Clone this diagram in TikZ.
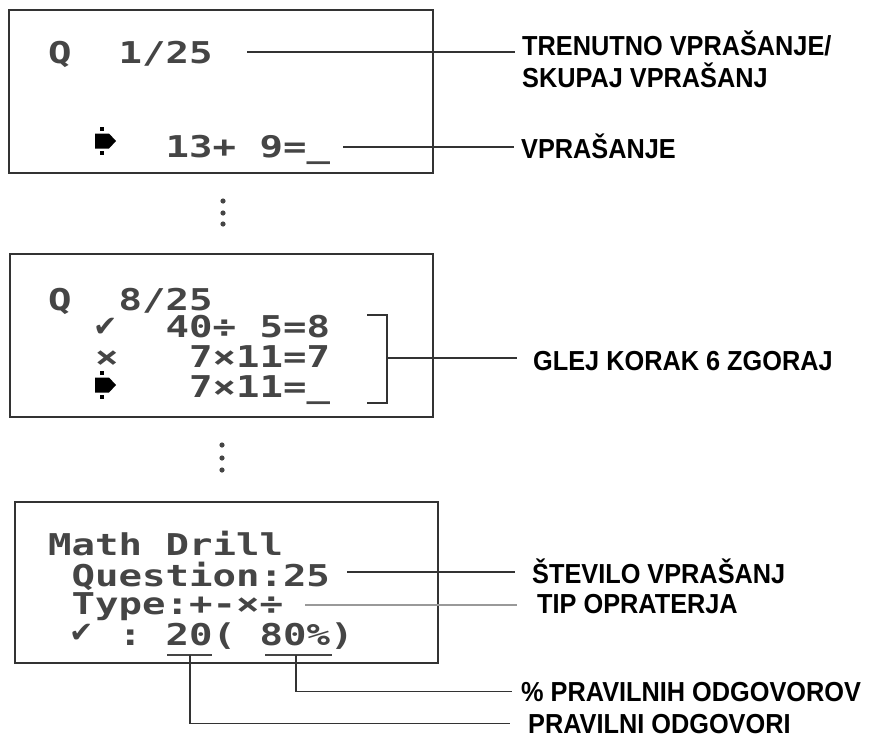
\documentclass[tikz,border=0pt]{standalone}
\usepackage{fontspec}
\setmainfont{Liberation Sans}
\newfontfamily\lcdfont[FakeStretch=1.3]{DejaVu Sans Mono}
\newfontfamily\symfont{DejaVu Sans}
\newfontfamily\labfont[FakeStretch=0.92]{Liberation Sans}
\definecolor{lcdgray}{HTML}{454545}
\definecolor{boxgray}{HTML}{333333}
\definecolor{lightline}{HTML}{999999}
\begin{document}
\begin{tikzpicture}[x=1pt,y=-1pt,
  lcd/.style={anchor=base west,inner sep=0pt,text=lcdgray,font=\lcdfont\bfseries\fontsize{30}{32}\selectfont},
  lcdsym/.style={anchor=base west,inner sep=0pt,text=lcdgray,font=\symfont\fontsize{29}{30}\selectfont},
  screen/.style={draw=boxgray,line width=1.8pt},
  lab/.style={anchor=base west,inner ysep=0pt,inner xsep=7pt,font=\labfont\bfseries\fontsize{27.5}{32}\selectfont,align=left},
  leader/.style={draw=boxgray,line width=1.3pt},
  leaderlight/.style={draw=lightline,line width=1.3pt},
  under/.style={draw=lcdgray,line width=1.5pt},
  vdot/.style={fill=lcdgray},
  lcdpointer/.pic={
    \fill[black] (0pt,-7.5pt) -- (14pt,-7.5pt) -- (21pt,0pt) -- (14pt,7.5pt) -- (0pt,7.5pt) -- cycle;
    \fill[black] (5pt,-14pt) rectangle (9pt,-10pt);
    \fill[black] (5pt,10pt) rectangle (9pt,14pt);
  }]
\useasboundingbox (0,0) rectangle (872,739);
\fill[white] (0,0) rectangle (872,739);

% ---------- screen 1 ----------
\draw[screen] (9,10) rectangle (433,173);
\node[lcd] (s1q) at (48,63) {Q};
\node[lcd] (s1n) at (118.5,63) {1/25};
\pic at (95,141) {lcdpointer};
\node[lcd] (s1e) at (165.5,157) {13+};
\node[lcd] (s1f) at (259.5,157) {9=\_};

\node[lab] (l1) at (515,87) {TRENUTNO VPRAŠANJE/\\SKUPAJ VPRAŠANJ};
\node[lab] (l2) at (514,158) {VPRAŠANJE};
\coordinate (c1) at (247,52);
\coordinate (c2) at (343,147);
\draw[leader] (c1) -- (c1 -| l1.west);
\draw[leader] (c2) -- (c2 -| l2.west);

% dots
\fill[vdot] (223,201) circle (2.6);
\fill[vdot] (223,213) circle (2.6);
\fill[vdot] (223,224) circle (2.6);

% ---------- screen 2 ----------
\draw[screen] (10,254) rectangle (433,417);
\node[lcd] (s2q) at (48,310) {Q};
\node[lcd] (s2n) at (118.5,310) {8/25};
\node[lcdsym] (s2c) at (93,336) {✔};
\node[lcd] (s2r1) at (165.5,337) {40÷};
\node[lcd] (s2r1b) at (259.5,337) {5=8};
\node[lcd] (s2x) at (95,367) {×};
\node[lcd] (s2r2) at (189,367) {7×11=7};
\pic at (95,385) {lcdpointer};
\node[lcd] (s2r3) at (189,397) {7×11=\_};

\draw[leader] (367,315) -- (387,315) -- (387,403) -- (367,403);
\coordinate (c3) at (387,358);
\node[lab,inner xsep=16pt] (l3) at (517,370) {GLEJ KORAK 6 ZGORAJ};
\draw[leader] (c3) -- (c3 -| l3.west);

% dots
\fill[vdot] (222,445) circle (2.6);
\fill[vdot] (222,458) circle (2.6);
\fill[vdot] (222,470) circle (2.6);

% ---------- screen 3 ----------
\draw[screen] (15,502) rectangle (438,663);
\node[lcd] (s3a) at (48,555) {Math};
\node[lcd] (s3b) at (165.5,555) {Drill};
\node[lcd] (s3c) at (71.5,586) {Question:25};
\node[lcd] (s3d) at (71.5,614) {Type:+-×÷};
\node[lcdsym] (s3e) at (69,642) {✔};
\node[lcd] (s3f) at (118.5,645) {:};
\node[lcd] (s3g) at (165.5,645) {20(};
\node[lcd] (s3h) at (259.5,645) {80\%)};
\draw[under] (167,655) -- (212,655);
\draw[under] (265,655) -- (332,655);

\node[lab,inner xsep=17pt] (l4) at (515,583) {ŠTEVILO VPRAŠANJ};
\node[lab,inner xsep=20pt] (l5) at (517,613) {TIP OPRATERJA};
\node[lab,inner xsep=9pt] (l6) at (512,701) {\% PRAVILNIH ODGOVOROV};
\node[lab,inner xsep=18pt] (l7) at (510,733) {PRAVILNI ODGOVORI};
\coordinate (c4) at (347,572);
\coordinate (c5) at (305,605);
\coordinate (c6) at (296,655);
\coordinate (c7) at (190,655);
\draw[leader] (c4) -- (c4 -| l4.west);
\draw[leaderlight] (c5) -- (c5 -| l5.west);
\draw[leader] (c6) |- (l6.west);
\draw[leader] (c7) |- (l7.west);
\end{tikzpicture}
\end{document}
